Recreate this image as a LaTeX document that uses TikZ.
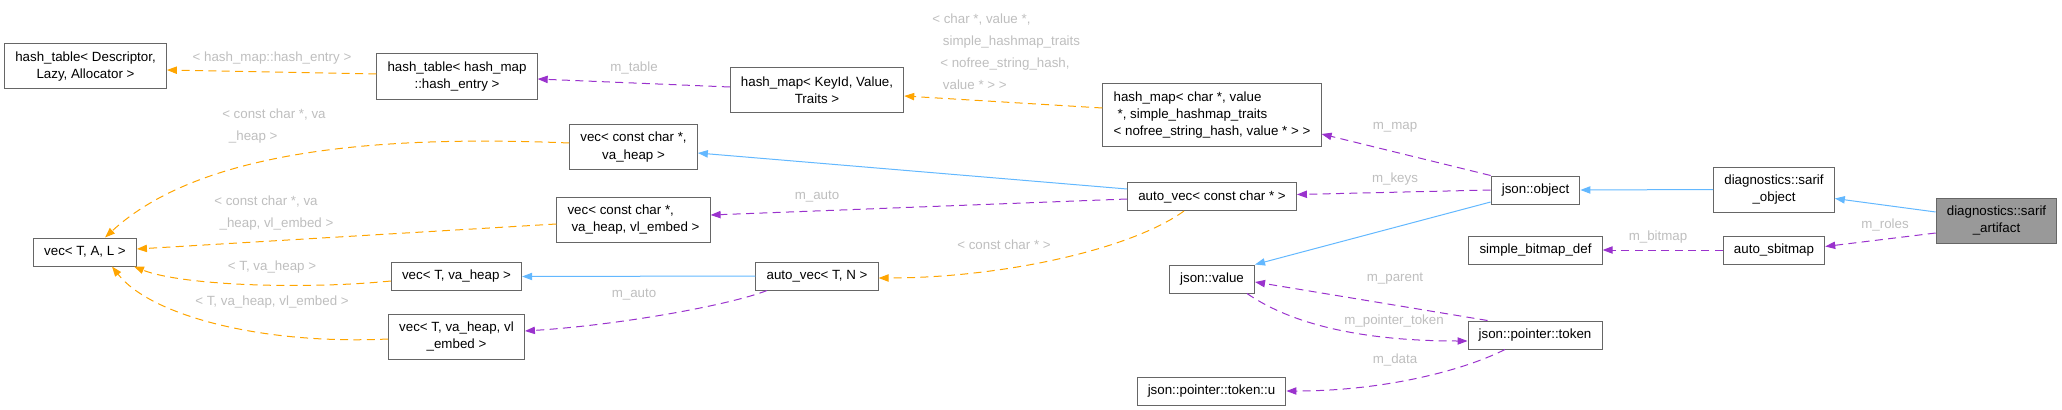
\documentclass[tikz,border=0pt]{standalone}
\usepackage{fontspec}
\setmainfont{Liberation Sans}
\usepackage{xcolor}
\usetikzlibrary{arrows.meta}
\definecolor{inhblue}{HTML}{63B8FF}
\definecolor{tmplorange}{HTML}{FFA500}
\definecolor{usepurple}{HTML}{9A32CD}
\definecolor{boxline}{HTML}{666666}
\definecolor{boxgrey}{HTML}{999999}
\definecolor{lblgrey}{HTML}{BEBEBE}
\tikzset{
  cls/.style={draw=boxline, fill=white, line width=0.75pt, inner xsep=8pt, inner ysep=3pt,
    minimum height=21pt, align=center, font=\fontsize{10}{13}\selectfont},
  two/.style={minimum height=33.75pt},
  three/.style={minimum height=46.5pt},
  inh/.style={draw=inhblue, line width=0.75pt, -{Triangle[length=7.5pt,width=5.5pt]}},
  usage/.style={draw=usepurple, line width=0.75pt, dash pattern=on 6pt off 4pt, -{Triangle[length=7.5pt,width=5.5pt]}},
  tmpl/.style={draw=tmplorange, line width=0.75pt, dash pattern=on 6pt off 4pt, -{Triangle[length=7.5pt,width=5.5pt]}},
  lbl/.style={text=lblgrey, font=\fontsize{10}{16.5}\selectfont, align=left, inner sep=0pt}
}
\begin{document}
\begin{tikzpicture}[x=0.75pt,y=-0.75pt]
\useasboundingbox (0,0) rectangle (2062,410);
% classes
\node[cls,two] (htD) at (85.5,66.5) {hash\_table< Descriptor,\\Lazy, Allocator >};
\node[cls,two] (htE) at (457,76.5) {hash\_table< hash\_map\\::hash\_entry >};
\node[cls,two] (hmK) at (817,90) {hash\_map< KeyId, Value,\\Traits >};
\node[cls,three,align=left] (hmC) at (1212,115) {hash\_map< char *, value\\\hspace*{3pt}*, simple\_hashmap\_traits\\< nofree\_string\_hash, value * > >};
\node[cls,two] (vecCH) at (633.5,147) {vec< const char *,\\va\_heap >};
\node[cls,two,align=left] (vecCE) at (633.5,219.5) {vec< const char *,\\\hspace*{3pt}va\_heap, vl\_embed >};
\node[cls] (vecTAL) at (85,252) {vec< T, A, L >};
\node[cls] (vecTH) at (456.5,276.5) {vec< T, va\_heap >};
\node[cls,two] (vecTE) at (456.5,336.5) {vec< T, va\_heap, vl\\\_embed >};
\node[cls] (avC) at (1212,196.5) {auto\_vec< const char * >};
\node[cls] (avT) at (817,276) {auto\_vec< T, N >};
\node[cls] (jv) at (1212,279) {json::value};
\node[cls] (jptu) at (1211.5,391) {json::pointer::token::u};
\node[cls] (jo) at (1535.5,190) {json::object};
\node[cls,two] (so) at (1774,189.5) {diagnostics::sarif\\\_object};
\node[cls,two,fill=boxgrey] (sa) at (1996.5,220.5) {diagnostics::sarif\\\_artifact};
\node[cls] (sbd) at (1535.5,250) {simple\_bitmap\_def};
\node[cls] (asb) at (1774,250) {auto\_sbitmap};
\node[cls] (jpt) at (1535,335) {json::pointer::token};
% inheritance
\draw[inh] (so.west) -- (jo.east);
\draw[inh] ([shift={(0,-8.5)}]sa.west) -- ([shift={(0,9)}]so.east);
\draw[inh] ([shift={(0,12)}]jo.west) -- (jv.north east);
\draw[inh] ([shift={(0,-7.5)}]avC.west) -- ([shift={(0,6)}]vecCH.east);
\draw[inh] (avT.west) -- (vecTH.east);
% members
\draw[usage] ([shift={(0,-3)}]hmK.west) -- ([shift={(0,2.5)}]htE.east);
\draw[usage] (jo.north west) -- ([shift={(0,19)}]hmC.east);
\draw[usage] (jo.west) -- ([shift={(0,-2)}]avC.east);
\draw[usage] ([shift={(0,12.5)}]sa.west) -- ([shift={(0,-3.5)}]asb.east);
\draw[usage] (asb.west) -- (sbd.east);
\draw[usage] ([shift={(20,0)}]jpt.north west) -- ([shift={(0,3)}]jv.east);
\draw[usage] ([shift={(35,0)}]jv.south) .. controls (1300,330) and (1380,341) .. ([shift={(0,6)}]jpt.west);
\draw[usage] ([shift={(-30,0)}]jpt.south) .. controls (1460,372) and (1380,391) .. (jptu.east);
\draw[usage] ([shift={(0,2.5)}]avC.west) -- ([shift={(0,-4.5)}]vecCE.east);
\draw[usage] ([shift={(-50,0)}]avT.south) .. controls (730,305) and (620,325) .. ([shift={(0,-5.5)}]vecTE.east);
% templates
\draw[tmpl] ([shift={(0,-2.5)}]htE.west) -- ([shift={(0,3.5)}]htD.east);
\draw[tmpl] ([shift={(0,-7)}]hmC.west) -- ([shift={(0,6)}]hmK.east);
\draw[tmpl] ([shift={(-28,0)}]avC.south) .. controls (1130,250) and (1000,278) .. ([shift={(0,2)}]avT.east);
\draw[tmpl] ([shift={(0,-4)}]vecCH.west) .. controls (380,135) and (200,150) .. ([shift={(20,0)}]vecTAL.north);
\draw[tmpl] ([shift={(0,4.5)}]vecCE.west) -- ([shift={(0,-3)}]vecTAL.east);
\draw[tmpl] ([shift={(0,4.5)}]vecTH.west) .. controls (300,290) and (180,285) .. ([shift={(-3,0)}]vecTAL.south east);
\draw[tmpl] ([shift={(0,2.5)}]vecTE.west) .. controls (260,345) and (150,315) .. ([shift={(27,0)}]vecTAL.south);
% labels
\node[lbl] (lEntry) at (272,58) {< hash\_map::hash\_entry >};
\node[lbl] (lTable) at (634,68) {m\_table};
\node[lbl,anchor=west] (lTraits) at (932,51.5) {< char *, value *,\\\hspace*{8pt}simple\_hashmap\_traits\\\hspace*{6pt}< nofree\_string\_hash,\\\hspace*{8pt}value * > >};
\node[lbl,anchor=west] (lHeap) at (222,126) {< const char *, va\\\hspace*{5pt}\_heap >};
\node[lbl,anchor=west] (lEmbed) at (214,213) {< const char *, va\\\hspace*{4pt}\_heap, vl\_embed >};
\node[lbl] (lTHeap) at (272,267) {< T, va\_heap >};
\node[lbl] (lTEmbed) at (272,302) {< T, va\_heap, vl\_embed >};
\node[lbl] (lAutoT) at (634,295) {m\_auto};
\node[lbl] (lAutoC) at (817,197) {m\_auto};
\node[lbl] (lConst) at (1004,245) {< const char * >};
\node[lbl] (lMap) at (1395,127) {m\_map};
\node[lbl] (lKeys) at (1395,179) {m\_keys};
\node[lbl] (lParent) at (1395,279) {m\_parent};
\node[lbl] (lPtok) at (1394,321) {m\_pointer\_token};
\node[lbl] (lData) at (1395,360) {m\_data};
\node[lbl] (lBitmap) at (1658,237) {m\_bitmap};
\node[lbl] (lRoles) at (1885,225) {m\_roles};
\end{tikzpicture}
\end{document}
